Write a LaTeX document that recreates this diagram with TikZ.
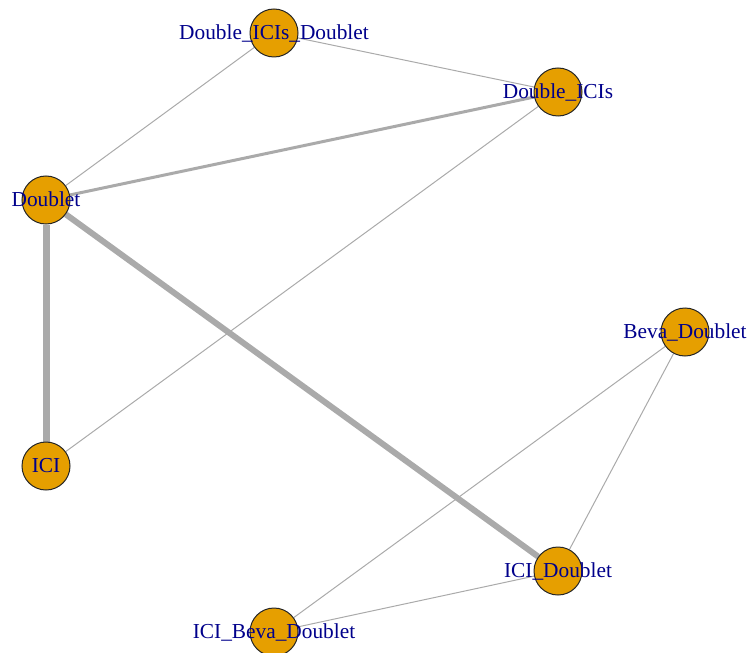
\documentclass[tikz,border=0pt]{standalone}
\usepackage{fontspec}
\setmainfont{Liberation Serif}
\usetikzlibrary{backgrounds}

\definecolor{vfill}{HTML}{E69F00}
\definecolor{vlab}{HTML}{00008B}
\definecolor{elin}{HTML}{AAAAAA}

\begin{document}
\begin{tikzpicture}[x=0.75pt, y=-0.75pt,
		vert/.style={circle, draw=black!85, fill=vfill, line width=0.75pt, minimum size=36pt, inner sep=0pt},
		lab/.style={text=vlab, font=\fontsize{16}{16}\selectfont, inner sep=0pt, text height=0.68em, text depth=0pt, yshift=-1.5pt},
		link/.style={draw=elin, line width=#1}, link/.default=0.75pt]
			\useasboundingbox (0,0) rectangle (748,652);
			\foreach \n/\x/\y/\t in {dicisd/274/33/Double\_ICIs\_Doublet, dicis/558/92/Double\_ICIs,
				dbl/46/200/Doublet, ici/46/466/ICI, beva/685/332/Beva\_Doublet,
				icid/558/571/ICI\_Doublet, icibd/274/632/ICI\_Beva\_Doublet} {
				\node[vert] (\n) at (\x,\y) {};
				\node[lab] at (\n) {\t};
			};
			\begin{scope}[on background layer]
				\draw[link] (dicisd) -- (dbl);
				\draw[link] (dicisd) -- (dicis);
				\draw[link=2.25pt] (dbl) -- (dicis);
				\draw[link] (dicis) -- (ici);
				\draw[link=5.25pt] (dbl) -- (ici);
				\draw[link=4.5pt] (dbl) -- (icid);
				\draw[link] (beva) -- (icid);
				\draw[link] (beva) -- (icibd);
				\draw[link] (icid) -- (icibd);
			\end{scope}
		\end{tikzpicture}
\end{document}
